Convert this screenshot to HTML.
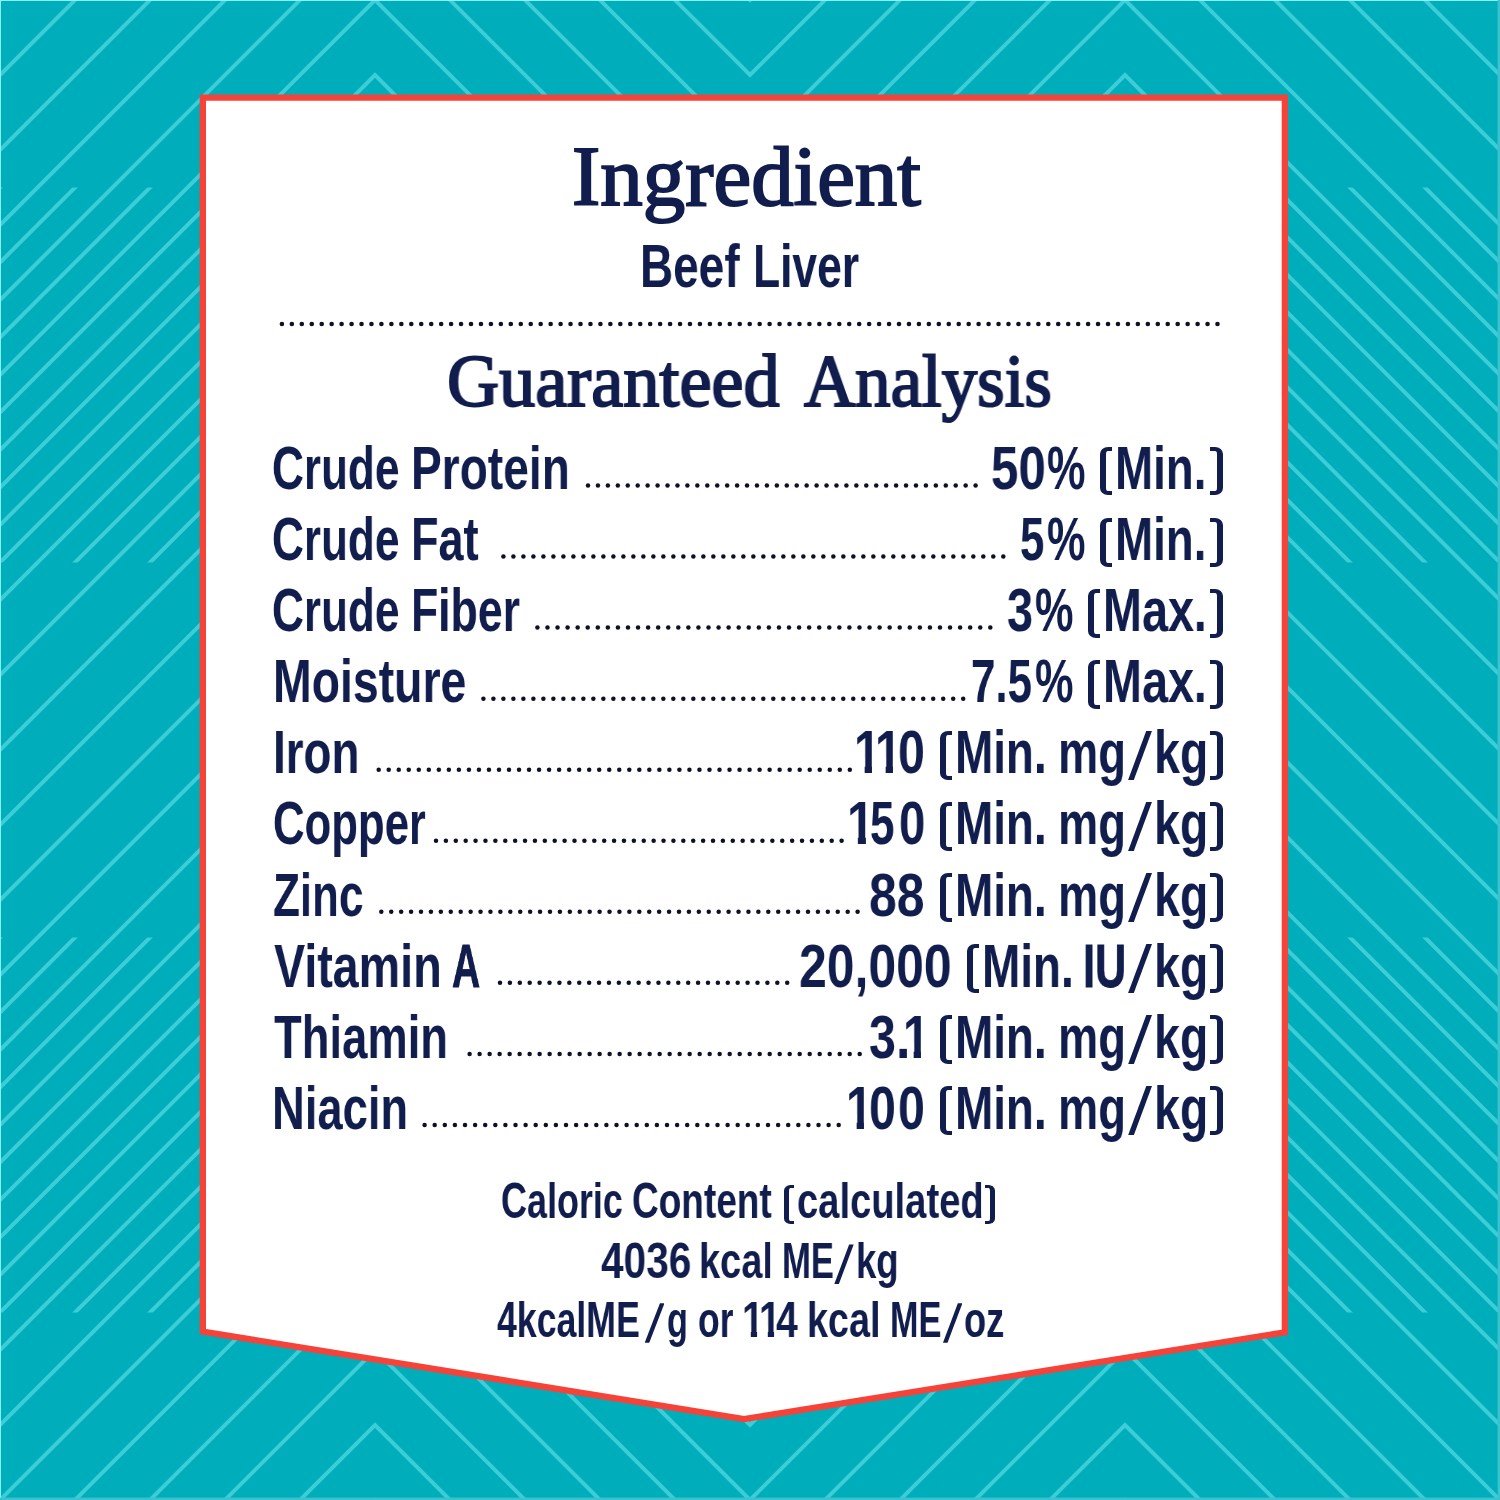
<!DOCTYPE html>
<html lang="en">
<head>
<meta charset="utf-8">
<title>Ingredient &amp; Guaranteed Analysis</title>
<style>
html,body{margin:0;padding:0}
body{width:1500px;height:1500px;overflow:hidden;position:relative;background:#00adbb;font-family:"Liberation Sans",sans-serif}
svg.art{position:absolute;left:0;top:0;width:1500px;height:1500px;display:block}
.t{will-change:transform;position:absolute;white-space:nowrap;line-height:1;color:#111d4d;transform-origin:0 0;margin:0;padding:0}
.sl{position:absolute;background:#111d4d;color:transparent;font-size:8px;line-height:1;overflow:hidden}
.br{position:absolute;box-sizing:border-box;border-style:solid;border-color:#111d4d;color:transparent;font-size:6px;line-height:1;overflow:hidden}
.brl{border-radius:8px 0 0 8px/7px 0 0 7px}
.brr{border-radius:0 8px 8px 0/0 7px 7px 0}
.fat{-webkit-text-stroke:.9px #111d4d}
.one{clip-path:polygon(0 0,.385em 0,.385em 1em,.222em 1em,.222em .6em,0 .6em)}
.sans{font-family:"Liberation Sans",sans-serif;font-weight:700}
.serif{font-family:"Liberation Serif",serif;font-weight:400;-webkit-text-stroke:2px #111d4d}
</style>
</head>
<body>
<svg class="art" width="1500" height="1500" viewBox="0 0 1500 1500">
<defs><clipPath id="band"><rect x="0" y="187.5" width="1500" height="375"/><rect x="0" y="937.5" width="1500" height="375"/></clipPath></defs>
<rect width="1500" height="1500" fill="#00adbb"/>
<g fill="none" stroke="#3ccdd8" stroke-width="4" stroke-linejoin="miter">
<polyline points="0,0 375,-375 750,0 1125,-375 1500,0"/>
<polyline points="0,75 375,-300 750,75 1125,-300 1500,75"/>
<polyline points="0,150 375,-225 750,150 1125,-225 1500,150"/>
<polyline points="0,225 375,-150 750,225 1125,-150 1500,225"/>
<polyline points="0,300 375,-75 750,300 1125,-75 1500,300"/>
<polyline points="0,375 375,0 750,375 1125,0 1500,375"/>
<polyline points="0,450 375,75 750,450 1125,75 1500,450"/>
<polyline points="0,525 375,150 750,525 1125,150 1500,525"/>
<polyline points="0,600 375,225 750,600 1125,225 1500,600"/>
<polyline points="0,675 375,300 750,675 1125,300 1500,675"/>
<polyline points="0,750 375,375 750,750 1125,375 1500,750"/>
<polyline points="0,825 375,450 750,825 1125,450 1500,825"/>
<polyline points="0,900 375,525 750,900 1125,525 1500,900"/>
<polyline points="0,975 375,600 750,975 1125,600 1500,975"/>
<polyline points="0,1050 375,675 750,1050 1125,675 1500,1050"/>
<polyline points="0,1125 375,750 750,1125 1125,750 1500,1125"/>
<polyline points="0,1200 375,825 750,1200 1125,825 1500,1200"/>
<polyline points="0,1275 375,900 750,1275 1125,900 1500,1275"/>
<polyline points="0,1350 375,975 750,1350 1125,975 1500,1350"/>
<polyline points="0,1425 375,1050 750,1425 1125,1050 1500,1425"/>
<polyline points="0,1500 375,1125 750,1500 1125,1125 1500,1500"/>
<polyline points="0,1575 375,1200 750,1575 1125,1200 1500,1575"/>
<polyline points="0,1650 375,1275 750,1650 1125,1275 1500,1650"/>
<polyline points="0,1725 375,1350 750,1725 1125,1350 1500,1725"/>
<polyline points="0,1800 375,1425 750,1800 1125,1425 1500,1800"/>
<polyline points="0,1875 375,1500 750,1875 1125,1500 1500,1875"/>
</g>
<g fill="none" stroke="#3ccdd8" stroke-width="4" stroke-linejoin="miter" clip-path="url(#band)">
<polyline points="0,-37.5 375,-412.5 750,-37.5 1125,-412.5 1500,-37.5"/>
<polyline points="0,37.5 375,-337.5 750,37.5 1125,-337.5 1500,37.5"/>
<polyline points="0,112.5 375,-262.5 750,112.5 1125,-262.5 1500,112.5"/>
<polyline points="0,187.5 375,-187.5 750,187.5 1125,-187.5 1500,187.5"/>
<polyline points="0,262.5 375,-112.5 750,262.5 1125,-112.5 1500,262.5"/>
<polyline points="0,337.5 375,-37.5 750,337.5 1125,-37.5 1500,337.5"/>
<polyline points="0,412.5 375,37.5 750,412.5 1125,37.5 1500,412.5"/>
<polyline points="0,487.5 375,112.5 750,487.5 1125,112.5 1500,487.5"/>
<polyline points="0,562.5 375,187.5 750,562.5 1125,187.5 1500,562.5"/>
<polyline points="0,637.5 375,262.5 750,637.5 1125,262.5 1500,637.5"/>
<polyline points="0,712.5 375,337.5 750,712.5 1125,337.5 1500,712.5"/>
<polyline points="0,787.5 375,412.5 750,787.5 1125,412.5 1500,787.5"/>
<polyline points="0,862.5 375,487.5 750,862.5 1125,487.5 1500,862.5"/>
<polyline points="0,937.5 375,562.5 750,937.5 1125,562.5 1500,937.5"/>
<polyline points="0,1012.5 375,637.5 750,1012.5 1125,637.5 1500,1012.5"/>
<polyline points="0,1087.5 375,712.5 750,1087.5 1125,712.5 1500,1087.5"/>
<polyline points="0,1162.5 375,787.5 750,1162.5 1125,787.5 1500,1162.5"/>
<polyline points="0,1237.5 375,862.5 750,1237.5 1125,862.5 1500,1237.5"/>
<polyline points="0,1312.5 375,937.5 750,1312.5 1125,937.5 1500,1312.5"/>
<polyline points="0,1387.5 375,1012.5 750,1387.5 1125,1012.5 1500,1387.5"/>
<polyline points="0,1462.5 375,1087.5 750,1462.5 1125,1087.5 1500,1462.5"/>
<polyline points="0,1537.5 375,1162.5 750,1537.5 1125,1162.5 1500,1537.5"/>
<polyline points="0,1612.5 375,1237.5 750,1612.5 1125,1237.5 1500,1612.5"/>
<polyline points="0,1687.5 375,1312.5 750,1687.5 1125,1312.5 1500,1687.5"/>
<polyline points="0,1762.5 375,1387.5 750,1762.5 1125,1387.5 1500,1762.5"/>
<polyline points="0,1837.5 375,1462.5 750,1837.5 1125,1462.5 1500,1837.5"/>
<polyline points="0,1912.5 375,1537.5 750,1912.5 1125,1537.5 1500,1912.5"/>
</g>
<rect x="0" y="0" width="1500" height="1" fill="#86f1f7"/>
<rect x="0" y="0" width="1" height="1500" fill="#86f1f7"/>
<rect x="0" y="1497.6" width="1500" height="2.4" fill="#3cc2ce"/>
<rect x="1497.6" y="0" width="2.4" height="1500" fill="#3cc2ce"/>
<polygon points="202.85,97.55 1284.85,97.55 1284.85,1332.32 744,1419.11 202.85,1331.62" fill="#fff" stroke="#f6433a" stroke-width="6.3" stroke-linejoin="miter"/>
<g fill="#0d1026">
<circle cx="281.90" cy="324.00" r="2.3"/><circle cx="291.85" cy="324.00" r="2.3"/><circle cx="301.81" cy="324.00" r="2.3"/><circle cx="311.76" cy="324.00" r="2.3"/><circle cx="321.71" cy="324.00" r="2.3"/><circle cx="331.67" cy="324.00" r="2.3"/><circle cx="341.62" cy="324.00" r="2.3"/><circle cx="351.57" cy="324.00" r="2.3"/><circle cx="361.53" cy="324.00" r="2.3"/><circle cx="371.48" cy="324.00" r="2.3"/><circle cx="381.43" cy="324.00" r="2.3"/><circle cx="391.39" cy="324.00" r="2.3"/><circle cx="401.34" cy="324.00" r="2.3"/><circle cx="411.29" cy="324.00" r="2.3"/><circle cx="421.24" cy="324.00" r="2.3"/><circle cx="431.20" cy="324.00" r="2.3"/><circle cx="441.15" cy="324.00" r="2.3"/><circle cx="451.10" cy="324.00" r="2.3"/><circle cx="461.06" cy="324.00" r="2.3"/><circle cx="471.01" cy="324.00" r="2.3"/><circle cx="480.96" cy="324.00" r="2.3"/><circle cx="490.92" cy="324.00" r="2.3"/><circle cx="500.87" cy="324.00" r="2.3"/><circle cx="510.82" cy="324.00" r="2.3"/><circle cx="520.78" cy="324.00" r="2.3"/><circle cx="530.73" cy="324.00" r="2.3"/><circle cx="540.68" cy="324.00" r="2.3"/><circle cx="550.64" cy="324.00" r="2.3"/><circle cx="560.59" cy="324.00" r="2.3"/><circle cx="570.54" cy="324.00" r="2.3"/><circle cx="580.50" cy="324.00" r="2.3"/><circle cx="590.45" cy="324.00" r="2.3"/><circle cx="600.40" cy="324.00" r="2.3"/><circle cx="610.36" cy="324.00" r="2.3"/><circle cx="620.31" cy="324.00" r="2.3"/><circle cx="630.26" cy="324.00" r="2.3"/><circle cx="640.21" cy="324.00" r="2.3"/><circle cx="650.17" cy="324.00" r="2.3"/><circle cx="660.12" cy="324.00" r="2.3"/><circle cx="670.07" cy="324.00" r="2.3"/><circle cx="680.03" cy="324.00" r="2.3"/><circle cx="689.98" cy="324.00" r="2.3"/><circle cx="699.93" cy="324.00" r="2.3"/><circle cx="709.89" cy="324.00" r="2.3"/><circle cx="719.84" cy="324.00" r="2.3"/><circle cx="729.79" cy="324.00" r="2.3"/><circle cx="739.75" cy="324.00" r="2.3"/><circle cx="749.70" cy="324.00" r="2.3"/><circle cx="759.65" cy="324.00" r="2.3"/><circle cx="769.61" cy="324.00" r="2.3"/><circle cx="779.56" cy="324.00" r="2.3"/><circle cx="789.51" cy="324.00" r="2.3"/><circle cx="799.47" cy="324.00" r="2.3"/><circle cx="809.42" cy="324.00" r="2.3"/><circle cx="819.37" cy="324.00" r="2.3"/><circle cx="829.33" cy="324.00" r="2.3"/><circle cx="839.28" cy="324.00" r="2.3"/><circle cx="849.23" cy="324.00" r="2.3"/><circle cx="859.19" cy="324.00" r="2.3"/><circle cx="869.14" cy="324.00" r="2.3"/><circle cx="879.09" cy="324.00" r="2.3"/><circle cx="889.04" cy="324.00" r="2.3"/><circle cx="899.00" cy="324.00" r="2.3"/><circle cx="908.95" cy="324.00" r="2.3"/><circle cx="918.90" cy="324.00" r="2.3"/><circle cx="928.86" cy="324.00" r="2.3"/><circle cx="938.81" cy="324.00" r="2.3"/><circle cx="948.76" cy="324.00" r="2.3"/><circle cx="958.72" cy="324.00" r="2.3"/><circle cx="968.67" cy="324.00" r="2.3"/><circle cx="978.62" cy="324.00" r="2.3"/><circle cx="988.58" cy="324.00" r="2.3"/><circle cx="998.53" cy="324.00" r="2.3"/><circle cx="1008.48" cy="324.00" r="2.3"/><circle cx="1018.44" cy="324.00" r="2.3"/><circle cx="1028.39" cy="324.00" r="2.3"/><circle cx="1038.34" cy="324.00" r="2.3"/><circle cx="1048.30" cy="324.00" r="2.3"/><circle cx="1058.25" cy="324.00" r="2.3"/><circle cx="1068.20" cy="324.00" r="2.3"/><circle cx="1078.16" cy="324.00" r="2.3"/><circle cx="1088.11" cy="324.00" r="2.3"/><circle cx="1098.06" cy="324.00" r="2.3"/><circle cx="1108.01" cy="324.00" r="2.3"/><circle cx="1117.97" cy="324.00" r="2.3"/><circle cx="1127.92" cy="324.00" r="2.3"/><circle cx="1137.87" cy="324.00" r="2.3"/><circle cx="1147.83" cy="324.00" r="2.3"/><circle cx="1157.78" cy="324.00" r="2.3"/><circle cx="1167.73" cy="324.00" r="2.3"/><circle cx="1177.69" cy="324.00" r="2.3"/><circle cx="1187.64" cy="324.00" r="2.3"/><circle cx="1197.59" cy="324.00" r="2.3"/><circle cx="1207.55" cy="324.00" r="2.3"/><circle cx="1217.50" cy="324.00" r="2.3"/>
<circle cx="588.00" cy="485.50" r="2.25"/><circle cx="597.94" cy="485.50" r="2.25"/><circle cx="607.88" cy="485.50" r="2.25"/><circle cx="617.82" cy="485.50" r="2.25"/><circle cx="627.75" cy="485.50" r="2.25"/><circle cx="637.69" cy="485.50" r="2.25"/><circle cx="647.63" cy="485.50" r="2.25"/><circle cx="657.57" cy="485.50" r="2.25"/><circle cx="667.51" cy="485.50" r="2.25"/><circle cx="677.45" cy="485.50" r="2.25"/><circle cx="687.38" cy="485.50" r="2.25"/><circle cx="697.32" cy="485.50" r="2.25"/><circle cx="707.26" cy="485.50" r="2.25"/><circle cx="717.20" cy="485.50" r="2.25"/><circle cx="727.14" cy="485.50" r="2.25"/><circle cx="737.08" cy="485.50" r="2.25"/><circle cx="747.02" cy="485.50" r="2.25"/><circle cx="756.95" cy="485.50" r="2.25"/><circle cx="766.89" cy="485.50" r="2.25"/><circle cx="776.83" cy="485.50" r="2.25"/><circle cx="786.77" cy="485.50" r="2.25"/><circle cx="796.71" cy="485.50" r="2.25"/><circle cx="806.65" cy="485.50" r="2.25"/><circle cx="816.58" cy="485.50" r="2.25"/><circle cx="826.52" cy="485.50" r="2.25"/><circle cx="836.46" cy="485.50" r="2.25"/><circle cx="846.40" cy="485.50" r="2.25"/><circle cx="856.34" cy="485.50" r="2.25"/><circle cx="866.28" cy="485.50" r="2.25"/><circle cx="876.22" cy="485.50" r="2.25"/><circle cx="886.15" cy="485.50" r="2.25"/><circle cx="896.09" cy="485.50" r="2.25"/><circle cx="906.03" cy="485.50" r="2.25"/><circle cx="915.97" cy="485.50" r="2.25"/><circle cx="925.91" cy="485.50" r="2.25"/><circle cx="935.85" cy="485.50" r="2.25"/><circle cx="945.78" cy="485.50" r="2.25"/><circle cx="955.72" cy="485.50" r="2.25"/><circle cx="965.66" cy="485.50" r="2.25"/><circle cx="975.60" cy="485.50" r="2.25"/>
<circle cx="503.40" cy="556.55" r="2.25"/><circle cx="513.40" cy="556.55" r="2.25"/><circle cx="523.40" cy="556.55" r="2.25"/><circle cx="533.39" cy="556.55" r="2.25"/><circle cx="543.39" cy="556.55" r="2.25"/><circle cx="553.39" cy="556.55" r="2.25"/><circle cx="563.39" cy="556.55" r="2.25"/><circle cx="573.39" cy="556.55" r="2.25"/><circle cx="583.38" cy="556.55" r="2.25"/><circle cx="593.38" cy="556.55" r="2.25"/><circle cx="603.38" cy="556.55" r="2.25"/><circle cx="613.38" cy="556.55" r="2.25"/><circle cx="623.38" cy="556.55" r="2.25"/><circle cx="633.37" cy="556.55" r="2.25"/><circle cx="643.37" cy="556.55" r="2.25"/><circle cx="653.37" cy="556.55" r="2.25"/><circle cx="663.37" cy="556.55" r="2.25"/><circle cx="673.37" cy="556.55" r="2.25"/><circle cx="683.36" cy="556.55" r="2.25"/><circle cx="693.36" cy="556.55" r="2.25"/><circle cx="703.36" cy="556.55" r="2.25"/><circle cx="713.36" cy="556.55" r="2.25"/><circle cx="723.36" cy="556.55" r="2.25"/><circle cx="733.35" cy="556.55" r="2.25"/><circle cx="743.35" cy="556.55" r="2.25"/><circle cx="753.35" cy="556.55" r="2.25"/><circle cx="763.35" cy="556.55" r="2.25"/><circle cx="773.35" cy="556.55" r="2.25"/><circle cx="783.34" cy="556.55" r="2.25"/><circle cx="793.34" cy="556.55" r="2.25"/><circle cx="803.34" cy="556.55" r="2.25"/><circle cx="813.34" cy="556.55" r="2.25"/><circle cx="823.34" cy="556.55" r="2.25"/><circle cx="833.33" cy="556.55" r="2.25"/><circle cx="843.33" cy="556.55" r="2.25"/><circle cx="853.33" cy="556.55" r="2.25"/><circle cx="863.33" cy="556.55" r="2.25"/><circle cx="873.33" cy="556.55" r="2.25"/><circle cx="883.32" cy="556.55" r="2.25"/><circle cx="893.32" cy="556.55" r="2.25"/><circle cx="903.32" cy="556.55" r="2.25"/><circle cx="913.32" cy="556.55" r="2.25"/><circle cx="923.32" cy="556.55" r="2.25"/><circle cx="933.31" cy="556.55" r="2.25"/><circle cx="943.31" cy="556.55" r="2.25"/><circle cx="953.31" cy="556.55" r="2.25"/><circle cx="963.31" cy="556.55" r="2.25"/><circle cx="973.31" cy="556.55" r="2.25"/><circle cx="983.30" cy="556.55" r="2.25"/><circle cx="993.30" cy="556.55" r="2.25"/><circle cx="1003.30" cy="556.55" r="2.25"/>
<circle cx="537.40" cy="627.60" r="2.25"/><circle cx="547.46" cy="627.60" r="2.25"/><circle cx="557.53" cy="627.60" r="2.25"/><circle cx="567.59" cy="627.60" r="2.25"/><circle cx="577.66" cy="627.60" r="2.25"/><circle cx="587.72" cy="627.60" r="2.25"/><circle cx="597.79" cy="627.60" r="2.25"/><circle cx="607.85" cy="627.60" r="2.25"/><circle cx="617.92" cy="627.60" r="2.25"/><circle cx="627.98" cy="627.60" r="2.25"/><circle cx="638.04" cy="627.60" r="2.25"/><circle cx="648.11" cy="627.60" r="2.25"/><circle cx="658.17" cy="627.60" r="2.25"/><circle cx="668.24" cy="627.60" r="2.25"/><circle cx="678.30" cy="627.60" r="2.25"/><circle cx="688.37" cy="627.60" r="2.25"/><circle cx="698.43" cy="627.60" r="2.25"/><circle cx="708.50" cy="627.60" r="2.25"/><circle cx="718.56" cy="627.60" r="2.25"/><circle cx="728.62" cy="627.60" r="2.25"/><circle cx="738.69" cy="627.60" r="2.25"/><circle cx="748.75" cy="627.60" r="2.25"/><circle cx="758.82" cy="627.60" r="2.25"/><circle cx="768.88" cy="627.60" r="2.25"/><circle cx="778.95" cy="627.60" r="2.25"/><circle cx="789.01" cy="627.60" r="2.25"/><circle cx="799.08" cy="627.60" r="2.25"/><circle cx="809.14" cy="627.60" r="2.25"/><circle cx="819.20" cy="627.60" r="2.25"/><circle cx="829.27" cy="627.60" r="2.25"/><circle cx="839.33" cy="627.60" r="2.25"/><circle cx="849.40" cy="627.60" r="2.25"/><circle cx="859.46" cy="627.60" r="2.25"/><circle cx="869.53" cy="627.60" r="2.25"/><circle cx="879.59" cy="627.60" r="2.25"/><circle cx="889.66" cy="627.60" r="2.25"/><circle cx="899.72" cy="627.60" r="2.25"/><circle cx="909.78" cy="627.60" r="2.25"/><circle cx="919.85" cy="627.60" r="2.25"/><circle cx="929.91" cy="627.60" r="2.25"/><circle cx="939.98" cy="627.60" r="2.25"/><circle cx="950.04" cy="627.60" r="2.25"/><circle cx="960.11" cy="627.60" r="2.25"/><circle cx="970.17" cy="627.60" r="2.25"/><circle cx="980.24" cy="627.60" r="2.25"/><circle cx="990.30" cy="627.60" r="2.25"/>
<circle cx="483.40" cy="698.65" r="2.25"/><circle cx="493.40" cy="698.65" r="2.25"/><circle cx="503.39" cy="698.65" r="2.25"/><circle cx="513.39" cy="698.65" r="2.25"/><circle cx="523.38" cy="698.65" r="2.25"/><circle cx="533.38" cy="698.65" r="2.25"/><circle cx="543.38" cy="698.65" r="2.25"/><circle cx="553.37" cy="698.65" r="2.25"/><circle cx="563.37" cy="698.65" r="2.25"/><circle cx="573.36" cy="698.65" r="2.25"/><circle cx="583.36" cy="698.65" r="2.25"/><circle cx="593.35" cy="698.65" r="2.25"/><circle cx="603.35" cy="698.65" r="2.25"/><circle cx="613.35" cy="698.65" r="2.25"/><circle cx="623.34" cy="698.65" r="2.25"/><circle cx="633.34" cy="698.65" r="2.25"/><circle cx="643.33" cy="698.65" r="2.25"/><circle cx="653.33" cy="698.65" r="2.25"/><circle cx="663.33" cy="698.65" r="2.25"/><circle cx="673.32" cy="698.65" r="2.25"/><circle cx="683.32" cy="698.65" r="2.25"/><circle cx="693.31" cy="698.65" r="2.25"/><circle cx="703.31" cy="698.65" r="2.25"/><circle cx="713.30" cy="698.65" r="2.25"/><circle cx="723.30" cy="698.65" r="2.25"/><circle cx="733.30" cy="698.65" r="2.25"/><circle cx="743.29" cy="698.65" r="2.25"/><circle cx="753.29" cy="698.65" r="2.25"/><circle cx="763.28" cy="698.65" r="2.25"/><circle cx="773.28" cy="698.65" r="2.25"/><circle cx="783.28" cy="698.65" r="2.25"/><circle cx="793.27" cy="698.65" r="2.25"/><circle cx="803.27" cy="698.65" r="2.25"/><circle cx="813.26" cy="698.65" r="2.25"/><circle cx="823.26" cy="698.65" r="2.25"/><circle cx="833.25" cy="698.65" r="2.25"/><circle cx="843.25" cy="698.65" r="2.25"/><circle cx="853.25" cy="698.65" r="2.25"/><circle cx="863.24" cy="698.65" r="2.25"/><circle cx="873.24" cy="698.65" r="2.25"/><circle cx="883.23" cy="698.65" r="2.25"/><circle cx="893.23" cy="698.65" r="2.25"/><circle cx="903.23" cy="698.65" r="2.25"/><circle cx="913.22" cy="698.65" r="2.25"/><circle cx="923.22" cy="698.65" r="2.25"/><circle cx="933.21" cy="698.65" r="2.25"/><circle cx="943.21" cy="698.65" r="2.25"/><circle cx="953.20" cy="698.65" r="2.25"/><circle cx="963.20" cy="698.65" r="2.25"/>
<circle cx="378.70" cy="769.70" r="2.25"/><circle cx="388.72" cy="769.70" r="2.25"/><circle cx="398.75" cy="769.70" r="2.25"/><circle cx="408.77" cy="769.70" r="2.25"/><circle cx="418.79" cy="769.70" r="2.25"/><circle cx="428.82" cy="769.70" r="2.25"/><circle cx="438.84" cy="769.70" r="2.25"/><circle cx="448.86" cy="769.70" r="2.25"/><circle cx="458.89" cy="769.70" r="2.25"/><circle cx="468.91" cy="769.70" r="2.25"/><circle cx="478.93" cy="769.70" r="2.25"/><circle cx="488.96" cy="769.70" r="2.25"/><circle cx="498.98" cy="769.70" r="2.25"/><circle cx="509.00" cy="769.70" r="2.25"/><circle cx="519.03" cy="769.70" r="2.25"/><circle cx="529.05" cy="769.70" r="2.25"/><circle cx="539.07" cy="769.70" r="2.25"/><circle cx="549.10" cy="769.70" r="2.25"/><circle cx="559.12" cy="769.70" r="2.25"/><circle cx="569.14" cy="769.70" r="2.25"/><circle cx="579.17" cy="769.70" r="2.25"/><circle cx="589.19" cy="769.70" r="2.25"/><circle cx="599.21" cy="769.70" r="2.25"/><circle cx="609.24" cy="769.70" r="2.25"/><circle cx="619.26" cy="769.70" r="2.25"/><circle cx="629.29" cy="769.70" r="2.25"/><circle cx="639.31" cy="769.70" r="2.25"/><circle cx="649.33" cy="769.70" r="2.25"/><circle cx="659.36" cy="769.70" r="2.25"/><circle cx="669.38" cy="769.70" r="2.25"/><circle cx="679.40" cy="769.70" r="2.25"/><circle cx="689.43" cy="769.70" r="2.25"/><circle cx="699.45" cy="769.70" r="2.25"/><circle cx="709.47" cy="769.70" r="2.25"/><circle cx="719.50" cy="769.70" r="2.25"/><circle cx="729.52" cy="769.70" r="2.25"/><circle cx="739.54" cy="769.70" r="2.25"/><circle cx="749.57" cy="769.70" r="2.25"/><circle cx="759.59" cy="769.70" r="2.25"/><circle cx="769.61" cy="769.70" r="2.25"/><circle cx="779.64" cy="769.70" r="2.25"/><circle cx="789.66" cy="769.70" r="2.25"/><circle cx="799.68" cy="769.70" r="2.25"/><circle cx="809.71" cy="769.70" r="2.25"/><circle cx="819.73" cy="769.70" r="2.25"/><circle cx="829.75" cy="769.70" r="2.25"/><circle cx="839.78" cy="769.70" r="2.25"/><circle cx="849.80" cy="769.70" r="2.25"/>
<circle cx="436.00" cy="840.75" r="2.25"/><circle cx="445.89" cy="840.75" r="2.25"/><circle cx="455.79" cy="840.75" r="2.25"/><circle cx="465.68" cy="840.75" r="2.25"/><circle cx="475.57" cy="840.75" r="2.25"/><circle cx="485.46" cy="840.75" r="2.25"/><circle cx="495.36" cy="840.75" r="2.25"/><circle cx="505.25" cy="840.75" r="2.25"/><circle cx="515.14" cy="840.75" r="2.25"/><circle cx="525.03" cy="840.75" r="2.25"/><circle cx="534.93" cy="840.75" r="2.25"/><circle cx="544.82" cy="840.75" r="2.25"/><circle cx="554.71" cy="840.75" r="2.25"/><circle cx="564.60" cy="840.75" r="2.25"/><circle cx="574.50" cy="840.75" r="2.25"/><circle cx="584.39" cy="840.75" r="2.25"/><circle cx="594.28" cy="840.75" r="2.25"/><circle cx="604.18" cy="840.75" r="2.25"/><circle cx="614.07" cy="840.75" r="2.25"/><circle cx="623.96" cy="840.75" r="2.25"/><circle cx="633.85" cy="840.75" r="2.25"/><circle cx="643.75" cy="840.75" r="2.25"/><circle cx="653.64" cy="840.75" r="2.25"/><circle cx="663.53" cy="840.75" r="2.25"/><circle cx="673.42" cy="840.75" r="2.25"/><circle cx="683.32" cy="840.75" r="2.25"/><circle cx="693.21" cy="840.75" r="2.25"/><circle cx="703.10" cy="840.75" r="2.25"/><circle cx="713.00" cy="840.75" r="2.25"/><circle cx="722.89" cy="840.75" r="2.25"/><circle cx="732.78" cy="840.75" r="2.25"/><circle cx="742.67" cy="840.75" r="2.25"/><circle cx="752.57" cy="840.75" r="2.25"/><circle cx="762.46" cy="840.75" r="2.25"/><circle cx="772.35" cy="840.75" r="2.25"/><circle cx="782.24" cy="840.75" r="2.25"/><circle cx="792.14" cy="840.75" r="2.25"/><circle cx="802.03" cy="840.75" r="2.25"/><circle cx="811.92" cy="840.75" r="2.25"/><circle cx="821.81" cy="840.75" r="2.25"/><circle cx="831.71" cy="840.75" r="2.25"/><circle cx="841.60" cy="840.75" r="2.25"/>
<circle cx="381.30" cy="911.80" r="2.25"/><circle cx="391.22" cy="911.80" r="2.25"/><circle cx="401.15" cy="911.80" r="2.25"/><circle cx="411.07" cy="911.80" r="2.25"/><circle cx="420.99" cy="911.80" r="2.25"/><circle cx="430.91" cy="911.80" r="2.25"/><circle cx="440.84" cy="911.80" r="2.25"/><circle cx="450.76" cy="911.80" r="2.25"/><circle cx="460.68" cy="911.80" r="2.25"/><circle cx="470.61" cy="911.80" r="2.25"/><circle cx="480.53" cy="911.80" r="2.25"/><circle cx="490.45" cy="911.80" r="2.25"/><circle cx="500.38" cy="911.80" r="2.25"/><circle cx="510.30" cy="911.80" r="2.25"/><circle cx="520.22" cy="911.80" r="2.25"/><circle cx="530.14" cy="911.80" r="2.25"/><circle cx="540.07" cy="911.80" r="2.25"/><circle cx="549.99" cy="911.80" r="2.25"/><circle cx="559.91" cy="911.80" r="2.25"/><circle cx="569.84" cy="911.80" r="2.25"/><circle cx="579.76" cy="911.80" r="2.25"/><circle cx="589.68" cy="911.80" r="2.25"/><circle cx="599.60" cy="911.80" r="2.25"/><circle cx="609.53" cy="911.80" r="2.25"/><circle cx="619.45" cy="911.80" r="2.25"/><circle cx="629.37" cy="911.80" r="2.25"/><circle cx="639.30" cy="911.80" r="2.25"/><circle cx="649.22" cy="911.80" r="2.25"/><circle cx="659.14" cy="911.80" r="2.25"/><circle cx="669.06" cy="911.80" r="2.25"/><circle cx="678.99" cy="911.80" r="2.25"/><circle cx="688.91" cy="911.80" r="2.25"/><circle cx="698.83" cy="911.80" r="2.25"/><circle cx="708.76" cy="911.80" r="2.25"/><circle cx="718.68" cy="911.80" r="2.25"/><circle cx="728.60" cy="911.80" r="2.25"/><circle cx="738.53" cy="911.80" r="2.25"/><circle cx="748.45" cy="911.80" r="2.25"/><circle cx="758.37" cy="911.80" r="2.25"/><circle cx="768.29" cy="911.80" r="2.25"/><circle cx="778.22" cy="911.80" r="2.25"/><circle cx="788.14" cy="911.80" r="2.25"/><circle cx="798.06" cy="911.80" r="2.25"/><circle cx="807.99" cy="911.80" r="2.25"/><circle cx="817.91" cy="911.80" r="2.25"/><circle cx="827.83" cy="911.80" r="2.25"/><circle cx="837.75" cy="911.80" r="2.25"/><circle cx="847.68" cy="911.80" r="2.25"/><circle cx="857.60" cy="911.80" r="2.25"/>
<circle cx="500.00" cy="982.85" r="2.25"/><circle cx="509.90" cy="982.85" r="2.25"/><circle cx="519.81" cy="982.85" r="2.25"/><circle cx="529.71" cy="982.85" r="2.25"/><circle cx="539.61" cy="982.85" r="2.25"/><circle cx="549.52" cy="982.85" r="2.25"/><circle cx="559.42" cy="982.85" r="2.25"/><circle cx="569.32" cy="982.85" r="2.25"/><circle cx="579.23" cy="982.85" r="2.25"/><circle cx="589.13" cy="982.85" r="2.25"/><circle cx="599.03" cy="982.85" r="2.25"/><circle cx="608.94" cy="982.85" r="2.25"/><circle cx="618.84" cy="982.85" r="2.25"/><circle cx="628.74" cy="982.85" r="2.25"/><circle cx="638.65" cy="982.85" r="2.25"/><circle cx="648.55" cy="982.85" r="2.25"/><circle cx="658.46" cy="982.85" r="2.25"/><circle cx="668.36" cy="982.85" r="2.25"/><circle cx="678.26" cy="982.85" r="2.25"/><circle cx="688.17" cy="982.85" r="2.25"/><circle cx="698.07" cy="982.85" r="2.25"/><circle cx="707.97" cy="982.85" r="2.25"/><circle cx="717.88" cy="982.85" r="2.25"/><circle cx="727.78" cy="982.85" r="2.25"/><circle cx="737.68" cy="982.85" r="2.25"/><circle cx="747.59" cy="982.85" r="2.25"/><circle cx="757.49" cy="982.85" r="2.25"/><circle cx="767.39" cy="982.85" r="2.25"/><circle cx="777.30" cy="982.85" r="2.25"/><circle cx="787.20" cy="982.85" r="2.25"/>
<circle cx="469.60" cy="1053.90" r="2.25"/><circle cx="479.60" cy="1053.90" r="2.25"/><circle cx="489.61" cy="1053.90" r="2.25"/><circle cx="499.61" cy="1053.90" r="2.25"/><circle cx="509.61" cy="1053.90" r="2.25"/><circle cx="519.61" cy="1053.90" r="2.25"/><circle cx="529.62" cy="1053.90" r="2.25"/><circle cx="539.62" cy="1053.90" r="2.25"/><circle cx="549.62" cy="1053.90" r="2.25"/><circle cx="559.62" cy="1053.90" r="2.25"/><circle cx="569.63" cy="1053.90" r="2.25"/><circle cx="579.63" cy="1053.90" r="2.25"/><circle cx="589.63" cy="1053.90" r="2.25"/><circle cx="599.63" cy="1053.90" r="2.25"/><circle cx="609.64" cy="1053.90" r="2.25"/><circle cx="619.64" cy="1053.90" r="2.25"/><circle cx="629.64" cy="1053.90" r="2.25"/><circle cx="639.64" cy="1053.90" r="2.25"/><circle cx="649.65" cy="1053.90" r="2.25"/><circle cx="659.65" cy="1053.90" r="2.25"/><circle cx="669.65" cy="1053.90" r="2.25"/><circle cx="679.65" cy="1053.90" r="2.25"/><circle cx="689.66" cy="1053.90" r="2.25"/><circle cx="699.66" cy="1053.90" r="2.25"/><circle cx="709.66" cy="1053.90" r="2.25"/><circle cx="719.66" cy="1053.90" r="2.25"/><circle cx="729.67" cy="1053.90" r="2.25"/><circle cx="739.67" cy="1053.90" r="2.25"/><circle cx="749.67" cy="1053.90" r="2.25"/><circle cx="759.67" cy="1053.90" r="2.25"/><circle cx="769.68" cy="1053.90" r="2.25"/><circle cx="779.68" cy="1053.90" r="2.25"/><circle cx="789.68" cy="1053.90" r="2.25"/><circle cx="799.68" cy="1053.90" r="2.25"/><circle cx="809.69" cy="1053.90" r="2.25"/><circle cx="819.69" cy="1053.90" r="2.25"/><circle cx="829.69" cy="1053.90" r="2.25"/><circle cx="839.69" cy="1053.90" r="2.25"/><circle cx="849.70" cy="1053.90" r="2.25"/><circle cx="859.70" cy="1053.90" r="2.25"/>
<circle cx="424.60" cy="1124.95" r="2.25"/><circle cx="434.70" cy="1124.95" r="2.25"/><circle cx="444.80" cy="1124.95" r="2.25"/><circle cx="454.90" cy="1124.95" r="2.25"/><circle cx="465.00" cy="1124.95" r="2.25"/><circle cx="475.10" cy="1124.95" r="2.25"/><circle cx="485.20" cy="1124.95" r="2.25"/><circle cx="495.30" cy="1124.95" r="2.25"/><circle cx="505.40" cy="1124.95" r="2.25"/><circle cx="515.50" cy="1124.95" r="2.25"/><circle cx="525.60" cy="1124.95" r="2.25"/><circle cx="535.70" cy="1124.95" r="2.25"/><circle cx="545.80" cy="1124.95" r="2.25"/><circle cx="555.90" cy="1124.95" r="2.25"/><circle cx="566.00" cy="1124.95" r="2.25"/><circle cx="576.10" cy="1124.95" r="2.25"/><circle cx="586.20" cy="1124.95" r="2.25"/><circle cx="596.30" cy="1124.95" r="2.25"/><circle cx="606.40" cy="1124.95" r="2.25"/><circle cx="616.50" cy="1124.95" r="2.25"/><circle cx="626.60" cy="1124.95" r="2.25"/><circle cx="636.70" cy="1124.95" r="2.25"/><circle cx="646.80" cy="1124.95" r="2.25"/><circle cx="656.90" cy="1124.95" r="2.25"/><circle cx="667.00" cy="1124.95" r="2.25"/><circle cx="677.10" cy="1124.95" r="2.25"/><circle cx="687.20" cy="1124.95" r="2.25"/><circle cx="697.30" cy="1124.95" r="2.25"/><circle cx="707.40" cy="1124.95" r="2.25"/><circle cx="717.50" cy="1124.95" r="2.25"/><circle cx="727.60" cy="1124.95" r="2.25"/><circle cx="737.70" cy="1124.95" r="2.25"/><circle cx="747.80" cy="1124.95" r="2.25"/><circle cx="757.90" cy="1124.95" r="2.25"/><circle cx="768.00" cy="1124.95" r="2.25"/><circle cx="778.10" cy="1124.95" r="2.25"/><circle cx="788.20" cy="1124.95" r="2.25"/><circle cx="798.30" cy="1124.95" r="2.25"/><circle cx="808.40" cy="1124.95" r="2.25"/><circle cx="818.50" cy="1124.95" r="2.25"/><circle cx="828.60" cy="1124.95" r="2.25"/><circle cx="838.70" cy="1124.95" r="2.25"/>
</g>
</svg>
<div id="t_ing" class="t serif" style="left:571.98px;top:135.15px;font-size:84px;transform:scaleX(1.0108)">Ingredient</div>
<div id="t_beef1" class="t sans" style="left:639.82px;top:235.07px;font-size:61.7px;transform:scaleX(0.7446)">Beef</div>
<div id="t_beef2" class="t sans" style="left:753.12px;top:235.07px;font-size:61.7px;transform:scaleX(0.7189)">Liver</div>
<div id="t_ga1" class="t serif" style="left:446.55px;top:343.56px;font-size:74.2px;transform:scaleX(0.9729)">Guaranteed</div>
<div id="t_ga2" class="t serif" style="left:803.70px;top:343.56px;font-size:74.2px;transform:scaleX(0.9547)">Analysis</div>
<div id="l0_0" class="t sans" style="left:272.47px;top:437.22px;font-size:62px;transform:scaleX(0.7109)">Crude</div>
<div id="l0_1" class="t sans" style="left:411.33px;top:437.22px;font-size:62px;transform:scaleX(0.7437)">Protein</div>
<div id="v0_0" class="t sans" style="left:990.61px;top:437.22px;font-size:62px;transform:scaleX(0.7953)">50</div>
<div id="v0_1" class="t sans" style="left:1046.60px;top:437.22px;font-size:62px;transform:scaleX(0.6962)">%</div>
<div id="v0_3" class="t sans" style="left:1115.45px;top:437.22px;font-size:62px;transform:scaleX(0.7371)">Min.</div>
<div id="l1_0" class="t sans" style="left:272.47px;top:508.27px;font-size:62px;transform:scaleX(0.7109)">Crude</div>
<div id="l1_1" class="t sans" style="left:411.39px;top:508.27px;font-size:62px;transform:scaleX(0.7273)">Fat</div>
<div id="v1_0" class="t sans" style="left:1019.79px;top:508.27px;font-size:62px;transform:scaleX(0.7065)">5</div>
<div id="v1_1" class="t sans" style="left:1046.60px;top:508.27px;font-size:62px;transform:scaleX(0.6962)">%</div>
<div id="v1_3" class="t sans" style="left:1115.45px;top:508.27px;font-size:62px;transform:scaleX(0.7371)">Min.</div>
<div id="l2_0" class="t sans" style="left:272.47px;top:579.32px;font-size:62px;transform:scaleX(0.7109)">Crude</div>
<div id="l2_1" class="t sans" style="left:411.43px;top:579.32px;font-size:62px;transform:scaleX(0.7184)">Fiber</div>
<div id="v2_0" class="t sans" style="left:1006.79px;top:579.32px;font-size:62px;transform:scaleX(0.7567)">3</div>
<div id="v2_1" class="t sans" style="left:1034.60px;top:579.32px;font-size:62px;transform:scaleX(0.6962)">%</div>
<div id="v2_3" class="t sans" style="left:1102.88px;top:579.32px;font-size:62px;transform:scaleX(0.7538)">Max.</div>
<div id="l3_0" class="t sans" style="left:273.01px;top:650.37px;font-size:62px;transform:scaleX(0.7484)">Moisture</div>
<div id="v3_0" class="t sans" style="left:970.88px;top:650.37px;font-size:62px;transform:scaleX(0.7073)">7.5</div>
<div id="v3_1" class="t sans" style="left:1034.60px;top:650.37px;font-size:62px;transform:scaleX(0.6962)">%</div>
<div id="v3_3" class="t sans" style="left:1102.88px;top:650.37px;font-size:62px;transform:scaleX(0.7538)">Max.</div>
<div id="l4_0" class="t sans" style="left:272.55px;top:721.42px;font-size:62px;transform:scaleX(0.7385)">Iron</div>
<div id="v4_0" class="t sans one" style="left:854.02px;top:721.42px;font-size:62px;transform:scaleX(0.7700)">1</div>
<div id="v4_1" class="t sans one" style="left:874.62px;top:721.42px;font-size:62px;transform:scaleX(0.7700)">1</div>
<div id="v4_2" class="t sans" style="left:898.04px;top:721.42px;font-size:62px;transform:scaleX(0.7800)">0</div>
<div id="v4_4" class="t sans" style="left:954.74px;top:721.42px;font-size:62px;transform:scaleX(0.7397)">Min.</div>
<div id="v4_5" class="t sans" style="left:1057.88px;top:721.42px;font-size:62px;transform:scaleX(0.7294)">mg</div>
<div id="v4_7" class="t sans" style="left:1153.80px;top:721.42px;font-size:62px;transform:scaleX(0.7500)">kg</div>
<div id="l5_0" class="t sans" style="left:272.59px;top:792.47px;font-size:62px;transform:scaleX(0.7047)">Copper</div>
<div id="v5_0" class="t sans one" style="left:846.92px;top:792.47px;font-size:62px;transform:scaleX(0.7950)">1</div>
<div id="v5_1" class="t sans" style="left:870.18px;top:792.47px;font-size:62px;transform:scaleX(0.7097)">5</div>
<div id="v5_2" class="t sans" style="left:898.57px;top:792.47px;font-size:62px;transform:scaleX(0.7633)">0</div>
<div id="v5_4" class="t sans" style="left:954.74px;top:792.47px;font-size:62px;transform:scaleX(0.7397)">Min.</div>
<div id="v5_5" class="t sans" style="left:1057.88px;top:792.47px;font-size:62px;transform:scaleX(0.7294)">mg</div>
<div id="v5_7" class="t sans" style="left:1153.80px;top:792.47px;font-size:62px;transform:scaleX(0.7500)">kg</div>
<div id="l6_0" class="t sans" style="left:273.28px;top:863.52px;font-size:62px;transform:scaleX(0.7097)">Zinc</div>
<div id="v6_0" class="t sans" style="left:868.79px;top:863.52px;font-size:62px;transform:scaleX(0.8031)">88</div>
<div id="v6_2" class="t sans" style="left:954.74px;top:863.52px;font-size:62px;transform:scaleX(0.7397)">Min.</div>
<div id="v6_3" class="t sans" style="left:1057.88px;top:863.52px;font-size:62px;transform:scaleX(0.7294)">mg</div>
<div id="v6_5" class="t sans" style="left:1153.80px;top:863.52px;font-size:62px;transform:scaleX(0.7500)">kg</div>
<div id="l7_0" class="t sans" style="left:273.85px;top:934.57px;font-size:62px;transform:scaleX(0.7523)">Vitamin</div>
<div id="l7_1" class="t sans fat" style="left:451.57px;top:934.57px;font-size:62px;transform:scaleX(0.6286)">A</div>
<div id="v7_0" class="t sans" style="left:799.09px;top:934.57px;font-size:62px;transform:scaleX(0.8043)">20,000</div>
<div id="v7_2" class="t sans" style="left:981.94px;top:934.57px;font-size:62px;transform:scaleX(0.7405)">Min.</div>
<div id="v7_3" class="t sans fat" style="left:1083.41px;top:934.57px;font-size:62px;transform:scaleX(0.6964)">IU</div>
<div id="v7_5" class="t sans" style="left:1153.80px;top:934.57px;font-size:62px;transform:scaleX(0.7500)">kg</div>
<div id="l8_0" class="t sans" style="left:273.67px;top:1005.62px;font-size:62px;transform:scaleX(0.7322)">Thiamin</div>
<div id="v8_0" class="t sans" style="left:869.34px;top:1005.62px;font-size:62px;transform:scaleX(0.7800)">3</div>
<div id="v8_1" class="t sans" style="left:896.07px;top:1005.62px;font-size:62px;transform:scaleX(0.8333)">.</div>
<div id="v8_2" class="t sans one" style="left:902.92px;top:1005.62px;font-size:62px;transform:scaleX(0.7700)">1</div>
<div id="v8_4" class="t sans" style="left:954.74px;top:1005.62px;font-size:62px;transform:scaleX(0.7397)">Min.</div>
<div id="v8_5" class="t sans" style="left:1057.88px;top:1005.62px;font-size:62px;transform:scaleX(0.7294)">mg</div>
<div id="v8_7" class="t sans" style="left:1153.80px;top:1005.62px;font-size:62px;transform:scaleX(0.7500)">kg</div>
<div id="l9_0" class="t sans" style="left:272.47px;top:1076.67px;font-size:62px;transform:scaleX(0.7315)">Niacin</div>
<div id="v9_0" class="t sans one" style="left:845.92px;top:1076.67px;font-size:62px;transform:scaleX(0.7700)">1</div>
<div id="v9_1" class="t sans" style="left:869.34px;top:1076.67px;font-size:62px;transform:scaleX(0.7800)">0</div>
<div id="v9_2" class="t sans" style="left:897.84px;top:1076.67px;font-size:62px;transform:scaleX(0.7800)">0</div>
<div id="v9_4" class="t sans" style="left:954.74px;top:1076.67px;font-size:62px;transform:scaleX(0.7397)">Min.</div>
<div id="v9_5" class="t sans" style="left:1057.88px;top:1076.67px;font-size:62px;transform:scaleX(0.7294)">mg</div>
<div id="v9_7" class="t sans" style="left:1153.80px;top:1076.67px;font-size:62px;transform:scaleX(0.7500)">kg</div>
<div id="c0_0" class="t sans" style="left:501.25px;top:1176.91px;font-size:49.6px;transform:scaleX(0.7250)">Caloric</div>
<div id="c0_1" class="t sans" style="left:631.81px;top:1176.91px;font-size:49.6px;transform:scaleX(0.7459)">Content</div>
<div id="c0_3" class="t sans" style="left:797.26px;top:1176.91px;font-size:49.6px;transform:scaleX(0.7696)">calculated</div>
<div id="c1_0" class="t sans" style="left:600.78px;top:1236.91px;font-size:49.6px;transform:scaleX(0.8185)">4036</div>
<div id="c1_1" class="t sans" style="left:699.00px;top:1236.91px;font-size:49.6px;transform:scaleX(0.7656)">kcal</div>
<div id="c1_2" class="t sans" style="left:781.90px;top:1236.91px;font-size:49.6px;transform:scaleX(0.6986)">ME</div>
<div id="c1_4" class="t sans" style="left:855.79px;top:1236.91px;font-size:49.6px;transform:scaleX(0.7365)">kg</div>
<div id="c2_0" class="t sans" style="left:496.78px;top:1295.71px;font-size:49.6px;transform:scaleX(0.7194)">4kcalME</div>
<div id="c2_2" class="t sans" style="left:667.12px;top:1295.71px;font-size:49.6px;transform:scaleX(0.6880)">g</div>
<div id="c2_3" class="t sans" style="left:697.57px;top:1295.71px;font-size:49.6px;transform:scaleX(0.7170)">or</div>
<div id="c2_4" class="t sans one" style="left:741.62px;top:1295.71px;font-size:49.6px;transform:scaleX(0.7938)">1</div>
<div id="c2_5" class="t sans one" style="left:758.82px;top:1295.71px;font-size:49.6px;transform:scaleX(0.7937)">1</div>
<div id="c2_6" class="t sans" style="left:775.91px;top:1295.71px;font-size:49.6px;transform:scaleX(0.7923)">4</div>
<div id="c2_7" class="t sans" style="left:807.22px;top:1295.71px;font-size:49.6px;transform:scaleX(0.7611)">kcal</div>
<div id="c2_8" class="t sans" style="left:890.43px;top:1295.71px;font-size:49.6px;transform:scaleX(0.6913)">ME</div>
<div id="c2_10" class="t sans" style="left:963.64px;top:1295.71px;font-size:49.6px;transform:scaleX(0.7314)">oz</div>
<div class="sl" style="left:1128.00px;top:730.80px;width:24.00px;height:49.40px;clip-path:polygon(76.2% 0,100% 0,23.8% 100%,0 100%)">/</div>
<div class="sl" style="left:1128.00px;top:801.85px;width:24.00px;height:49.40px;clip-path:polygon(76.2% 0,100% 0,23.8% 100%,0 100%)">/</div>
<div class="sl" style="left:1128.00px;top:872.90px;width:24.00px;height:49.40px;clip-path:polygon(76.2% 0,100% 0,23.8% 100%,0 100%)">/</div>
<div class="sl" style="left:1128.00px;top:943.95px;width:24.00px;height:49.40px;clip-path:polygon(76.2% 0,100% 0,23.8% 100%,0 100%)">/</div>
<div class="sl" style="left:1128.00px;top:1015.00px;width:24.00px;height:49.40px;clip-path:polygon(76.2% 0,100% 0,23.8% 100%,0 100%)">/</div>
<div class="sl" style="left:1128.00px;top:1086.05px;width:24.00px;height:49.40px;clip-path:polygon(76.2% 0,100% 0,23.8% 100%,0 100%)">/</div>
<div class="sl" style="left:834.30px;top:1244.42px;width:19.40px;height:39.52px;clip-path:polygon(76.5% 0,100% 0,23.5% 100%,0 100%)">/</div>
<div class="sl" style="left:644.70px;top:1303.22px;width:19.80px;height:39.52px;clip-path:polygon(77.0% 0,100% 0,23.0% 100%,0 100%)">/</div>
<div class="sl" style="left:943.00px;top:1303.22px;width:19.40px;height:39.52px;clip-path:polygon(76.5% 0,100% 0,23.5% 100%,0 100%)">/</div>
<div class="br brl" style="left:1100.10px;top:446.80px;width:12.40px;height:48.70px;border-width:4.60px 0.00px 4.60px 6.40px">(</div>
<div class="br brr" style="left:1210.20px;top:446.80px;width:12.40px;height:48.70px;border-width:4.60px 6.40px 4.60px 0.00px">)</div>
<div class="br brl" style="left:1100.10px;top:517.85px;width:12.40px;height:48.70px;border-width:4.60px 0.00px 4.60px 6.40px">(</div>
<div class="br brr" style="left:1210.20px;top:517.85px;width:12.40px;height:48.70px;border-width:4.60px 6.40px 4.60px 0.00px">)</div>
<div class="br brl" style="left:1087.60px;top:588.90px;width:12.40px;height:48.70px;border-width:4.60px 0.00px 4.60px 6.40px">(</div>
<div class="br brr" style="left:1210.20px;top:588.90px;width:12.40px;height:48.70px;border-width:4.60px 6.40px 4.60px 0.00px">)</div>
<div class="br brl" style="left:1087.60px;top:659.95px;width:12.40px;height:48.70px;border-width:4.60px 0.00px 4.60px 6.40px">(</div>
<div class="br brr" style="left:1210.20px;top:659.95px;width:12.40px;height:48.70px;border-width:4.60px 6.40px 4.60px 0.00px">)</div>
<div class="br brl" style="left:939.50px;top:731.00px;width:12.40px;height:48.70px;border-width:4.60px 0.00px 4.60px 6.40px">(</div>
<div class="br brr" style="left:1210.40px;top:731.00px;width:12.40px;height:48.70px;border-width:4.60px 6.40px 4.60px 0.00px">)</div>
<div class="br brl" style="left:939.50px;top:802.05px;width:12.40px;height:48.70px;border-width:4.60px 0.00px 4.60px 6.40px">(</div>
<div class="br brr" style="left:1210.40px;top:802.05px;width:12.40px;height:48.70px;border-width:4.60px 6.40px 4.60px 0.00px">)</div>
<div class="br brl" style="left:939.50px;top:873.10px;width:12.40px;height:48.70px;border-width:4.60px 0.00px 4.60px 6.40px">(</div>
<div class="br brr" style="left:1210.40px;top:873.10px;width:12.40px;height:48.70px;border-width:4.60px 6.40px 4.60px 0.00px">)</div>
<div class="br brl" style="left:966.70px;top:944.15px;width:12.40px;height:48.70px;border-width:4.60px 0.00px 4.60px 6.40px">(</div>
<div class="br brr" style="left:1210.40px;top:944.15px;width:12.40px;height:48.70px;border-width:4.60px 6.40px 4.60px 0.00px">)</div>
<div class="br brl" style="left:939.50px;top:1015.20px;width:12.40px;height:48.70px;border-width:4.60px 0.00px 4.60px 6.40px">(</div>
<div class="br brr" style="left:1210.40px;top:1015.20px;width:12.40px;height:48.70px;border-width:4.60px 6.40px 4.60px 0.00px">)</div>
<div class="br brl" style="left:939.50px;top:1086.25px;width:12.40px;height:48.70px;border-width:4.60px 0.00px 4.60px 6.40px">(</div>
<div class="br brr" style="left:1210.40px;top:1086.25px;width:12.40px;height:48.70px;border-width:4.60px 6.40px 4.60px 0.00px">)</div>
<div class="br brl" style="left:784.40px;top:1184.58px;width:10.00px;height:38.96px;border-width:3.68px 0.00px 3.68px 5.12px;border-radius:6.4px 0 0 6.4px/5.6px 0 0 5.6px">(</div>
<div class="br brr" style="left:985.20px;top:1184.58px;width:10.00px;height:38.96px;border-width:3.68px 5.12px 3.68px 0.00px;border-radius:0 6.4px 6.4px 0/0 5.6px 5.6px 0">)</div>
</body>
</html>
